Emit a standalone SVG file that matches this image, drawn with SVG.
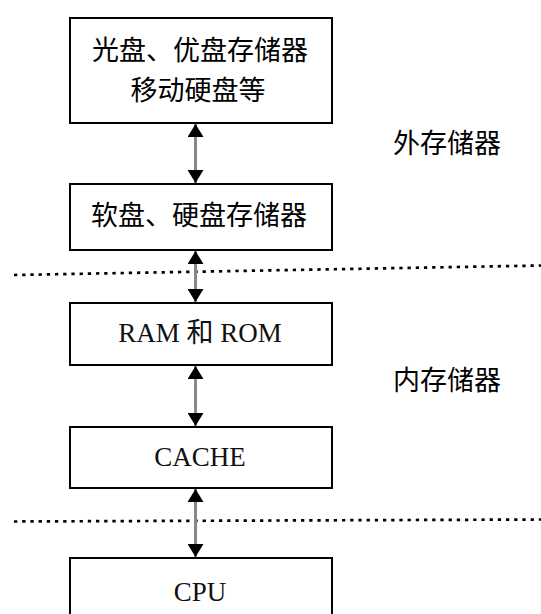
<svg xmlns="http://www.w3.org/2000/svg" width="541" height="614" viewBox="0 0 541 614">
<style>
.box{fill:#fff;stroke:#000;stroke-width:2}
.cjk{font-family:"Noto Sans CJK SC","Noto Sans CJK TC",sans-serif;font-size:27px;fill:#000;text-anchor:middle}
.lat{font-family:"Liberation Serif","Noto Sans CJK SC",serif;font-size:27px;fill:#111;text-anchor:middle}
.arr{stroke:#888;stroke-width:3;fill:none;marker-start:url(#ah);marker-end:url(#ah)}
.dot{stroke:#000;stroke-width:2.7;stroke-dasharray:3.3 4.9;fill:none}
</style>
<defs>
<marker id="ah" markerUnits="userSpaceOnUse" markerWidth="13" markerHeight="16" refX="13" refY="8" orient="auto-start-reverse" viewBox="0 0 13 16">
<path d="M0,0 L13,8 L0,16 z" fill="#000"/>
</marker>
</defs>
<rect width="541" height="614" fill="#fff"/>
<g id="separators">
<line class="dot" x1="14" y1="275" x2="541" y2="265.5"/>
<line class="dot" x1="14" y1="521.5" x2="541" y2="519.5"/>
</g>
<g id="connectors">
<line class="arr" x1="195.5" y1="124" x2="195.5" y2="183"/>
<line class="arr" x1="195.5" y1="251" x2="195.5" y2="302"/>
<line class="arr" x1="195.5" y1="366" x2="195.5" y2="426"/>
<line class="arr" x1="195.5" y1="489" x2="195.5" y2="557"/>
</g>
<g id="node-optical">
<rect class="box" x="70" y="18" width="262" height="105"/>
<text class="cjk" x="200" y="60">光盘、优盘存储器</text>
<text class="cjk" x="198" y="100">移动硬盘等</text>
</g>
<g id="node-disk">
<rect class="box" x="70" y="184" width="262" height="66"/>
<text class="cjk" x="199" y="225">软盘、硬盘存储器</text>
</g>
<g id="node-ram">
<rect class="box" x="70" y="303" width="262" height="62"/>
<text class="lat" x="200" y="342">RAM 和 ROM</text>
</g>
<g id="node-cache">
<rect class="box" x="70" y="427" width="262" height="61"/>
<text class="lat" x="200" y="466">CACHE</text>
</g>
<g id="node-cpu">
<rect class="box" x="70" y="558" width="262" height="70"/>
<text class="lat" x="200" y="601">CPU</text>
</g>
<g id="labels">
<text class="cjk" x="447" y="153">外存储器</text>
<text class="cjk" x="447" y="390">内存储器</text>
</g>
</svg>
